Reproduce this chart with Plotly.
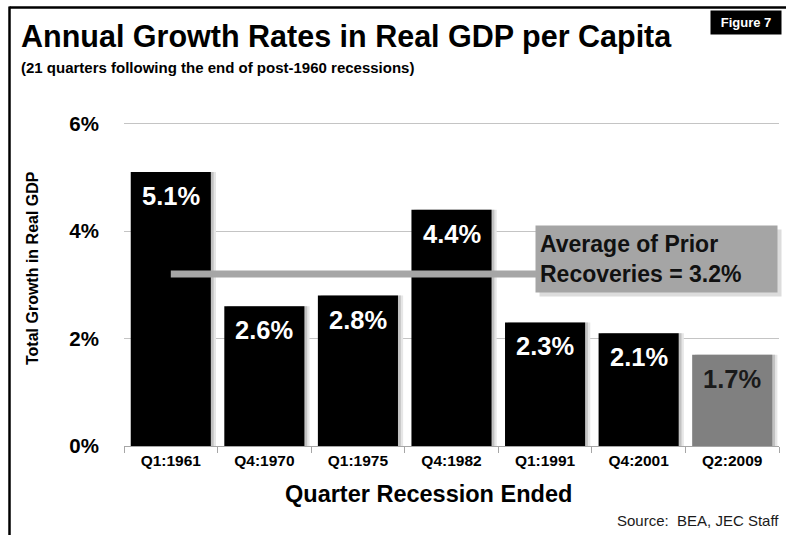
import plotly.graph_objects as go

# Data: growth over the 21 quarters after each post-1960 recession ended
quarters = ["Q1:1961", "Q4:1970", "Q1:1975", "Q4:1982", "Q1:1991", "Q4:2001", "Q2:2009"]
growth = [5.1, 2.6, 2.8, 4.4, 2.3, 2.1, 1.7]
prior_average = 3.2
y_ticks = [0, 2, 4, 6]
y_tick_labels = ["0%", "2%", "4%", "6%"]

W, H = 786, 535
ML, MR, MT, MB = 124, 7, 121, 89
PW, PH = W - ML - MR, H - MT - MB


def px_x(px):
    return (px - ML) / PW


def px_y(py):
    return (H - MB - py) / PH


FONT = "Liberation Sans, Arial, sans-serif"

bar_colors = ["#000000"] * (len(quarters) - 1) + ["#808080"]
label_colors = ["#ffffff"] * (len(quarters) - 1) + ["#1a1a1a"]

fig = go.Figure()

# soft drop shadow to the right of each bar
for off, col in [(0.055, "#e6e6e6"), (0.03, "#c2c2c2")]:
    fig.add_trace(go.Bar(
        x=quarters, y=growth, width=0.856, offset=-0.428 + off,
        marker=dict(color=col, line=dict(width=0)), hoverinfo="skip",
        showlegend=False,
    ))

fig.add_trace(go.Bar(
    x=quarters, y=growth, width=0.856, offset=-0.428,
    marker=dict(color=bar_colors, line=dict(width=0)), showlegend=False,
))

# average of prior recoveries
fig.add_trace(go.Scatter(
    x=[quarters[0], quarters[4]], y=[prior_average, prior_average],
    mode="lines", line=dict(color="#a6a6a6", width=7), showlegend=False,
))

annotations = []

# value labels inside the top of each bar
for q, v, c in zip(quarters, growth, label_colors):
    annotations.append(dict(
        x=q, y=v, xref="x", yref="y", yshift=-24, yanchor="middle",
        text=f"{v:.1f}%", showarrow=False,
        font=dict(family=FONT, size=25.5, color=c, weight="bold"),
    ))

# callout box for the average (shadow, then box)
box_left, box_top, box_w, box_h = 535, 225, 241, 66
annotations.append(dict(
    xref="paper", yref="paper", x=px_x(box_left), y=px_y(box_top),
    xanchor="left", yanchor="top", xshift=4, yshift=-4,
    text=" ", showarrow=False, width=box_w - 8, height=box_h - 8, borderpad=4,
    bgcolor="#dcdcdc", font=dict(size=10),
))
annotations.append(dict(
    xref="paper", yref="paper", x=px_x(box_left), y=px_y(box_top),
    xanchor="left", yanchor="top",
    text=f"Average of Prior<br>Recoveries = {prior_average:.1f}%",
    showarrow=False, align="left", valign="middle",
    width=box_w - 8, height=box_h - 8, borderpad=4, bgcolor="#a5a5a5",
    font=dict(family=FONT, size=23, color="#111111", weight="bold"),
))

# titles and notes
annotations += [
    dict(xref="paper", yref="paper", x=px_x(19), y=px_y(36), xanchor="left",
         yanchor="middle", showarrow=False,
         text="Annual Growth Rates in Real GDP per Capita",
         font=dict(family=FONT, size=30.5, color="#000000", weight="bold")),
    dict(xref="paper", yref="paper", x=px_x(19), y=px_y(67), xanchor="left",
         yanchor="middle", showarrow=False,
         text="(21 quarters following the end of post-1960 recessions)",
         font=dict(family=FONT, size=15, color="#000000", weight="bold")),
    dict(xref="paper", yref="paper", x=px_x(746), y=px_y(22.5), xanchor="center",
         yanchor="middle", showarrow=False, text="Figure 7", bgcolor="#000000",
         borderpad=4, width=62,
         font=dict(family=FONT, size=13, color="#ffffff", weight="bold")),
    dict(xref="paper", yref="paper", x=px_x(32), y=px_y(268), xanchor="center",
         yanchor="middle", showarrow=False, textangle=-90,
         text="Total Growth in Real GDP",
         font=dict(family=FONT, size=16, color="#000000", weight="bold")),
    dict(xref="paper", yref="paper", x=px_x(428), y=px_y(494), xanchor="center",
         yanchor="middle", showarrow=False, text="Quarter Recession Ended",
         font=dict(family=FONT, size=23.5, color="#000000", weight="bold")),
    dict(xref="paper", yref="paper", x=px_x(781), y=px_y(520), xanchor="right",
         yanchor="middle", showarrow=False, text="Source:  BEA, JEC Staff",
         font=dict(family=FONT, size=15, color="#1a1a1a")),
]

# frame along the top and left edges
shapes = [
    dict(type="line", xref="paper", yref="paper", x0=px_x(9.5), x1=px_x(800),
         y0=px_y(7.5), y1=px_y(7.5), line=dict(color="#000000", width=2.5)),
    dict(type="line", xref="paper", yref="paper", x0=px_x(9.5), x1=px_x(9.5),
         y0=px_y(6.5), y1=px_y(560), line=dict(color="#000000", width=2.5)),
]

fig.update_layout(
    width=W, height=H, margin=dict(l=ML, r=MR, t=MT, b=MB),
    paper_bgcolor="#ffffff", plot_bgcolor="#ffffff",
    barmode="overlay", bargap=0.14,
    annotations=annotations, shapes=shapes,
    font=dict(family=FONT, color="#000000"),
    xaxis=dict(
        type="category", tickson="boundaries", ticks="outside", ticklen=6,
        tickcolor="#a6a6a6", showline=True, linecolor="#a6a6a6", linewidth=1,
        showgrid=False,
        tickfont=dict(family=FONT, size=15.5, color="#000000", weight="bold"),
        range=[-0.5, len(quarters) - 0.5],
    ),
    yaxis=dict(
        range=[0, 6.05], tickvals=y_ticks, ticktext=y_tick_labels,
        showgrid=True, gridcolor="#c4c4c4", gridwidth=1, zeroline=False,
        ticks="outside", ticklen=20, tickcolor="rgba(0,0,0,0)",
        tickfont=dict(family=FONT, size=20.5, color="#000000", weight="bold"),
    ),
)

fig.write_html("out.html")
